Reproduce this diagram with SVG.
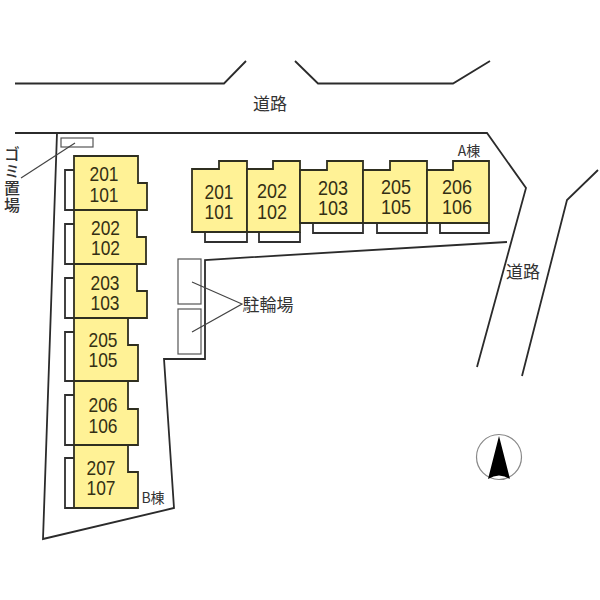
<svg xmlns="http://www.w3.org/2000/svg" width="600" height="600" viewBox="0 0 600 600">
<style>
.l{fill:none;stroke:#2b2b2b;stroke-width:1.8;stroke-linejoin:miter}
.thin{fill:none;stroke:#444;stroke-width:1.2}
.b{fill:#fff296;stroke:#2f2f20;stroke-width:1.8}
.w{fill:#fff;stroke:#2f2f2f;stroke-width:1.8}
.p{fill:#fff;stroke:#555;stroke-width:1.2}
.n{font-family:"Liberation Sans",Arial,sans-serif;font-size:21px;fill:#332f14;text-anchor:middle}
.t{font-family:"Noto Sans CJK JP","Liberation Sans",sans-serif;fill:#333;text-anchor:middle}
</style>
<rect width="600" height="600" fill="#fff"/>
<g id="trash"><rect class="p" x="61" y="138" width="32" height="9"/></g>
<g id="bike1"><rect class="p" x="178" y="259" width="23" height="45"/></g>
<g id="bike2"><rect class="p" x="178" y="309" width="23" height="45"/></g>
<g id="connectors">
<path class="l" d="M15 83.5H224L246 61M295 61L318 83.5H453L490 61"/>
<path class="l" d="M598 170L567 200L522 376"/>
<path class="l" d="M15 133H487L526 188L477 367"/>
<path class="l" d="M507 242L205 260V359H164L174 508L43 539L57 133"/>
<path class="thin" d="M21 178L75 143"/>
<path class="thin" d="M192 282L242 304L192 332"/>
</g>
<g id="B201"><path class="w" d="M74 170H65V210H74"/><path class="b" d="M74 156H138V183H147V210H74Z"/><text class="n"><tspan x="104" y="181" textLength="29" lengthAdjust="spacingAndGlyphs">201</tspan><tspan x="104" y="202" textLength="29" lengthAdjust="spacingAndGlyphs">101</tspan></text></g>
<g id="B202"><path class="w" d="M74 224H65V264H74"/><path class="b" d="M74 210H137V237H146V264H74Z"/><text class="n"><tspan x="105.500" y="235" textLength="29" lengthAdjust="spacingAndGlyphs">202</tspan><tspan x="105.500" y="255" textLength="29" lengthAdjust="spacingAndGlyphs">102</tspan></text></g>
<g id="B203"><path class="w" d="M74 278H65V318H74"/><path class="b" d="M74 264H137V291H147V318H74Z"/><text class="n"><tspan x="105" y="290" textLength="29" lengthAdjust="spacingAndGlyphs">203</tspan><tspan x="105" y="310" textLength="29" lengthAdjust="spacingAndGlyphs">103</tspan></text></g>
<g id="B205"><path class="w" d="M74 332H65V381H74"/><path class="b" d="M74 318H128V345H138V381H74Z"/><text class="n"><tspan x="103" y="347" textLength="29" lengthAdjust="spacingAndGlyphs">205</tspan><tspan x="103" y="367" textLength="29" lengthAdjust="spacingAndGlyphs">105</tspan></text></g>
<g id="B206"><path class="w" d="M74 395H65V445H74"/><path class="b" d="M74 381H128V409H138V445H74Z"/><text class="n"><tspan x="103" y="412" textLength="29" lengthAdjust="spacingAndGlyphs">206</tspan><tspan x="103" y="433" textLength="29" lengthAdjust="spacingAndGlyphs">106</tspan></text></g>
<g id="B207"><path class="w" d="M74 458H65V508H74"/><path class="b" d="M74 445H128V472H138V508H74Z"/><text class="n"><tspan x="101" y="475" textLength="29" lengthAdjust="spacingAndGlyphs">207</tspan><tspan x="101" y="495" textLength="29" lengthAdjust="spacingAndGlyphs">107</tspan></text></g>
<g id="A201"><path class="w" d="M205 232V242H247V232"/><path class="b" d="M192 169H219V161H247V232H192Z"/><text class="n"><tspan x="219" y="199" textLength="29" lengthAdjust="spacingAndGlyphs">201</tspan><tspan x="219" y="219" textLength="29" lengthAdjust="spacingAndGlyphs">101</tspan></text></g>
<g id="A202"><path class="w" d="M259 232V242H300V232"/><path class="b" d="M247 169H273V161H300V232H247Z"/><text class="n"><tspan x="272" y="198" textLength="30" lengthAdjust="spacingAndGlyphs">202</tspan><tspan x="272" y="219" textLength="30" lengthAdjust="spacingAndGlyphs">102</tspan></text></g>
<g id="A203"><path class="w" d="M313 223V233H363V223"/><path class="b" d="M300 170H327V161H363V223H300Z"/><text class="n"><tspan x="333" y="195" textLength="30" lengthAdjust="spacingAndGlyphs">203</tspan><tspan x="333" y="215" textLength="30" lengthAdjust="spacingAndGlyphs">103</tspan></text></g>
<g id="A205"><path class="w" d="M377 223V233H427V223"/><path class="b" d="M363 170H390V161H427V223H363Z"/><text class="n"><tspan x="396" y="194" textLength="30" lengthAdjust="spacingAndGlyphs">205</tspan><tspan x="396" y="214" textLength="30" lengthAdjust="spacingAndGlyphs">105</tspan></text></g>
<g id="A206"><path class="w" d="M440 223V233H489V223"/><path class="b" d="M427 170H453V161H489V223H427Z"/><text class="n"><tspan x="457" y="194" textLength="30" lengthAdjust="spacingAndGlyphs">206</tspan><tspan x="457" y="214" textLength="30" lengthAdjust="spacingAndGlyphs">106</tspan></text></g>
<g id="labels">
<text class="t" x="270" y="110" font-size="17">道路</text>
<text class="t" x="523" y="278" font-size="17">道路</text>
<text class="t" x="469" y="156" font-size="14">A棟</text>
<text class="t" x="153" y="503" font-size="14">B棟</text>
<text class="t" x="268" y="311" font-size="17">駐輪場</text>
<text class="t" x="12" y="146" font-size="16" font-weight="500" style="writing-mode:vertical-rl;text-anchor:start;letter-spacing:1px">ゴミ置場</text>
</g>
<g id="compass">
<circle cx="499" cy="457" r="22.500" fill="#fff" stroke="#888" stroke-width="1.2"/>
<path d="M499 436L510 479Q499 472 488 479Z" fill="#000"/>
</g>
</svg>
